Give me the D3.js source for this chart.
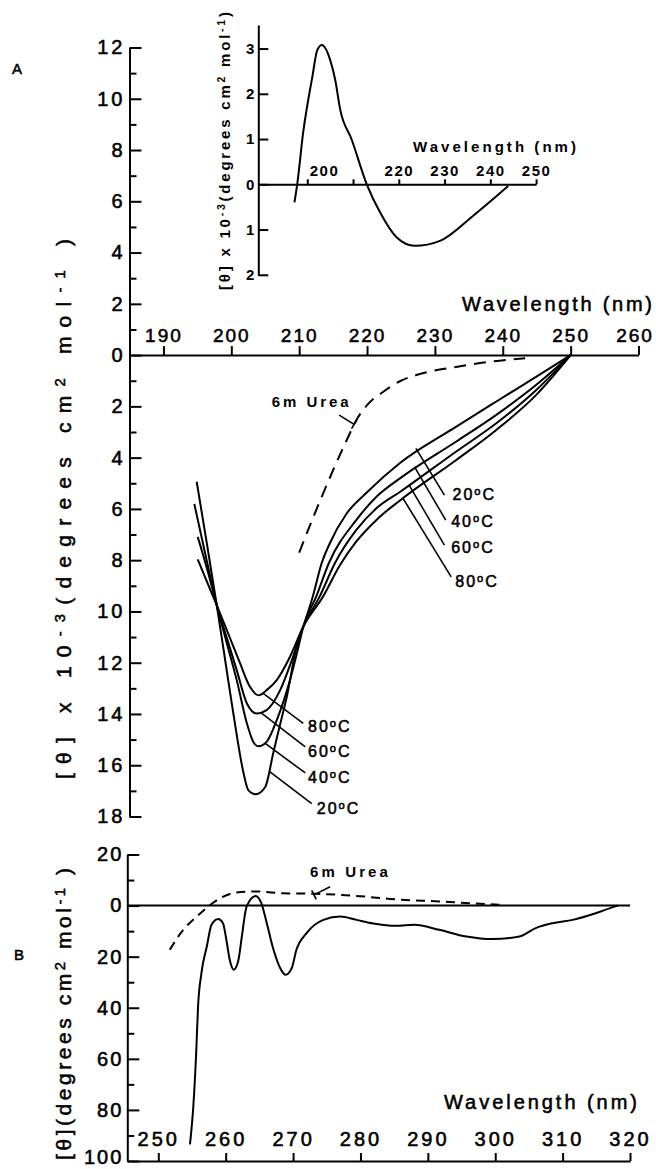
<!DOCTYPE html>
<html>
<head>
<meta charset="utf-8">
<script src="https://cdn.jsdelivr.net/npm/d3@7"></script>
<style>
  body { margin: 0; background: #fff; }
  svg { display: block; }
  .heavy { stroke: #000; stroke-width: 0.55px; }
</style>
</head>
<body>
<svg id="fig" width="656" height="1169"></svg>
<script>
// panel A, far UV: wavelength (nm) and [theta] x 10^-3 (negative values lie below the axis)
const temps = ["20", "40", "60", "80"];

const wl20 = [194.9, 196.4, 197.85, 199.2, 200.3, 201.8, 202.5, 203.6, 205.0, 206.2, 207.2, 208.2, 209.6, 210.6, 212.0, 213.3, 214.5, 217.0, 220.0, 224.9, 233.1, 239.0, 244.9, 250.0];
const th20 = [-4.94, -7.35, -9.75, -12.08, -13.98, -16.3, -16.97, -17.13, -16.85, -15.5, -14.4, -13.3, -11.4, -10.6, -9.43, -8.13, -7.35, -6.18, -5.35, -4.2, -2.8, -1.82, -0.85, 0];

const wl40 = [194.55, 196.2, 197.85, 199.3, 200.8, 202.3, 203.25, 204.0, 205.2, 206.7, 208.65, 209.9, 210.6, 212.5, 214.4, 218.4, 221.5, 224.9, 233.1, 239.0, 244.9, 250.0];
const th40 = [-5.81, -7.8, -9.75, -11.2, -12.68, -14.37, -15.09, -15.26, -15.09, -14.24, -12.68, -11.38, -10.6, -9.43, -8.1, -6.44, -5.5, -4.8, -3.38, -2.34, -1.17, 0];

const wl60 = [195.05, 196.5, 197.85, 199.3, 200.8, 202.3, 203.75, 205.2, 207.2, 209.1, 210.6, 213.0, 215.3, 218.4, 221.5, 224.9, 233.1, 239.0, 244.9, 250.0];
const th60 = [-7.09, -8.4, -9.75, -11.0, -12.29, -13.59, -13.98, -13.85, -13.07, -11.77, -10.6, -9.43, -8.1, -6.83, -5.95, -5.33, -3.77, -2.67, -1.37, 0];

const wl80 = [195.05, 196.5, 197.85, 199.6, 201.3, 202.75, 204.0, 205.2, 206.7, 208.65, 210.6, 213.5, 216.0, 218.4, 221.5, 224.9, 233.1, 239.0, 244.9, 250.0];
const th80 = [-7.97, -8.9, -9.75, -10.9, -12.03, -12.94, -13.27, -13.07, -12.68, -11.77, -10.6, -9.43, -8.2, -7.28, -6.4, -5.66, -4.1, -2.93, -1.56, 0];

const wlUreaA = [210.0, 212.1, 215.0, 217.0, 218.5, 220.0, 222.4, 225.0, 228.2, 233.1, 238.0, 243.3];
const thUreaA = [-7.71, -6.31, -4.49, -3.32, -2.5, -1.95, -1.43, -1.0, -0.71, -0.46, -0.26, -0.12];

// inset of panel A
const wlInset = [197.2, 197.8, 199.1, 201.1, 202.2, 203.2, 205.0, 206.1, 207.2, 209.7, 213.0, 215.9, 219.5, 223.5, 229.0, 236.2, 243.9];
const thInset = [-0.40, 0, 1.14, 2.37, 2.97, 3.08, 2.75, 2.31, 1.65, 0.99, 0, -0.62, -1.17, -1.36, -1.25, -0.70, -0.04];

// panel B, near UV
const wlB = [254.7, 255.2, 255.6, 255.9, 256.4, 257.2, 257.9, 258.9, 259.6, 260.1, 260.6, 261.2, 261.9, 262.4, 263.1, 264.45, 265.3, 266.1, 267.1, 268.1, 268.9, 269.8, 270.5, 272.0, 274.5, 277.0, 279.4, 281.9, 285.3, 288.0, 291.7, 295.7, 299.6, 303.6, 306.0, 308.5, 311.5, 314.9, 317.7, 318.2];
const thB = [-93.5, -78.5, -59, -39.5, -26.4, -16, -7.5, -5.3, -6.9, -13.4, -21.2, -25.1, -21.2, -12.1, -0.4, 3.8, 0.9, -6.9, -17.3, -24.5, -27.1, -24.5, -17.3, -10.8, -5.6, -4.3, -5.6, -7.0, -7.9, -7.5, -9.5, -12.1, -13.1, -12.1, -8.8, -6.9, -5.6, -3.0, -0.4, 0];

const wlUreaB = [251.7, 253.7, 255.7, 257.4, 259.2, 261.6, 264.6, 268.5, 273.5, 279.4, 284.4, 291.7, 296.6, 300.6];
const thUreaB = [-17.3, -9.5, -4.3, -0.4, 2.9, 5.1, 5.5, 4.8, 4.6, 3.8, 2.6, 1.6, 0.9, 0.3];

// tick values
const ticksAx = [190, 200, 210, 220, 230, 240, 250, 260];
const ticksAy = d3.range(-18, 13, 2);
const ticksIx = [200, 210, 220, 230, 240, 250];
const ticksIy = [-2, -1, 0, 1, 2, 3];
const ticksBx = [250, 260, 270, 280, 290, 300, 310, 320];
const ticksBy = d3.range(-100, 21, 20);

// label leaders, in data units: [from, to, text]
const lowLeaders = [
  [[205.7, -16.26], [211.85, -17.5], [212.6, -17.9]],
  [[205.0, -15.15], [210.9, -16.3], [211.3, -16.68]],
  [[204.5, -13.98], [210.9, -15.28], [211.3, -15.66]],
  [[204.7, -13.2], [210.6, -14.37], [211.3, -14.71]]
];
const highLeaders = [
  [[227.2, -3.64], [231.4, -5.46], [232.6, -5.66]],
  [[227.0, -4.36], [231.6, -6.44], [232.4, -6.71]],
  [[226.2, -5.07], [231.4, -7.41], [232.4, -7.73]],
  [[225.3, -5.59], [232.4, -8.65], [233.0, -9.05]]
];

const svg = d3.select("#fig")
  .attr("font-family", "'Liberation Sans', Arial, Helvetica, sans-serif");

const xA = d3.scaleLinear([185, 260], [129.5, 638.5]);
const yA = d3.scaleLinear([-18, 12], [816.5, 47.5]);
const xI = d3.scaleLinear([189.3, 250], [258.3, 536.1]);
const yI = d3.scaleLinear([-2, 3.52], [274.8, 25]);
const xB = d3.scaleLinear([245.4, 320], [127.3, 630]);
const yB = d3.scaleLinear([-100, 20], [1161, 854.5]);

function ink(g, fs, ls, weight) {
  g.attr("font-family", null).attr("font-size", null);
  g.selectAll("path, line").attr("stroke", "#000").attr("stroke-width", 2);
  g.selectAll("text").attr("fill", "#000")
    .style("font-size", fs + "px")
    .style("letter-spacing", ls + "px")
    .style("font-weight", weight || "normal")
    .classed("heavy", !weight);
  return g;
}

function curve(xs, ys, wl, th, dash, w) {
  const pts = wl.map((d, i) => [d, th[i]]);
  const line = d3.line().x(d => xs(d[0])).y(d => ys(d[1])).curve(d3.curveMonotoneX);
  svg.append("path")
    .attr("d", line(pts))
    .attr("fill", "none")
    .attr("stroke", "#000")
    .attr("stroke-width", w || 2)
    .attr("stroke-dasharray", dash || null);
}

function rich(sel, parts) {
  parts.forEach(([t, sup]) => {
    const s = sel.append("tspan").text(t);
    if (sup) s.attr("font-size", "70%").attr("baseline-shift", "42%");
  });
  return sel;
}

function leader(xs, ys, a, b, bar) {
  const x1 = xs(a[0]), y1 = ys(a[1]), x2 = xs(b[0]), y2 = ys(b[1]);
  svg.append("line").attr("x1", x1).attr("y1", y1).attr("x2", x2).attr("y2", y2)
    .attr("stroke", "#000").attr("stroke-width", 1.6);
  if (bar) {
    const L = Math.hypot(x2 - x1, y2 - y1), nx = -(y2 - y1) / L, ny = (x2 - x1) / L;
    svg.append("line")
      .attr("x1", x2 - nx * 5).attr("y1", y2 - ny * 5)
      .attr("x2", x2 + nx * 5).attr("y2", y2 + ny * 5)
      .attr("stroke", "#000").attr("stroke-width", 1.6);
  }
}

function tempLabel(xs, ys, p, t) {
  const txt = svg.append("text").attr("x", xs(p[0])).attr("y", ys(p[1]))
    .attr("class", "heavy").attr("font-size", 16).style("letter-spacing", "2px");
  rich(txt, [[t], ["o", true], ["C"]]);
}

// ---------- panel A axes
ink(svg.append("g").attr("transform", `translate(${xA(185)},0)`)
  .call(d3.axisLeft(yA).tickValues(ticksAy).tickSizeInner(-12).tickSizeOuter(0)
    .tickPadding(4).tickFormat(d => Math.abs(d))), 20, 3);
ink(svg.append("g").attr("transform", `translate(${xA(185)},0)`)
  .call(d3.axisLeft(yA).tickValues(d3.range(-17, 12, 2)).tickSizeInner(-7).tickSizeOuter(0)
    .tickFormat("")), 20, 0).select(".domain").remove();
const gAx = ink(svg.append("g").attr("transform", `translate(0,${yA(0)})`)
  .call(d3.axisTop(xA).tickValues(ticksAx).tickSizeInner(9).tickSizeOuter(0).tickPadding(4)), 19, 2);
gAx.selectAll(".tick text").filter(d => d === 260).attr("dx", -4);

svg.append("text").attr("class", "heavy").attr("x", 462).attr("y", 311).attr("font-size", 20)
  .attr("textLength", 190).attr("lengthAdjust", "spacing").text("Wavelength (nm)");

rich(svg.append("text").attr("class", "heavy").attr("transform", "translate(71,509) rotate(-90)")
  .attr("text-anchor", "middle").attr("font-size", 21)
  .attr("textLength", 540).attr("lengthAdjust", "spacing"),
  [["[θ] x 10"], ["-3", true], ["(degrees cm"], ["2", true], [" mol"], ["-1", true], [" )"]]);

svg.append("text").attr("class", "heavy").attr("x", 12).attr("y", 74).attr("font-size", 15).text("A");

// ---------- inset axes
ink(svg.append("g").attr("transform", `translate(${xI(189.3)},0)`)
  .call(d3.axisLeft(yI).tickValues(ticksIy).tickSizeInner(-10).tickSizeOuter(0)
    .tickPadding(3).tickFormat(d => Math.abs(d))), 15, 1, "bold");
const gIx = ink(svg.append("g").attr("transform", `translate(0,${yI(0)})`)
  .call(d3.axisTop(xI).tickValues(ticksIx).tickSizeInner(5).tickSizeOuter(0).tickPadding(3)
    .tickFormat(d => d === 210 ? "" : d)), 15, 1.5, "bold");
gIx.selectAll(".tick text").filter(d => d === 200).attr("text-anchor", "start").attr("x", 2);

svg.append("text").attr("x", 413).attr("y", 152).attr("font-size", 15).attr("font-weight", "bold")
  .attr("textLength", 163).attr("lengthAdjust", "spacing").text("Wavelength (nm)");

rich(svg.append("text").attr("transform", "translate(230,151) rotate(-90)")
  .attr("text-anchor", "middle").attr("font-size", 15).attr("font-weight", "bold")
  .attr("textLength", 278).attr("lengthAdjust", "spacing"),
  [["[θ] x 10"], ["-3", true], ["(degrees cm"], ["2", true], [" mol"], ["-1", true], [")"]]);

curve(xI, yI, wlInset, thInset);

// ---------- panel A curves
[[wl20, th20], [wl40, th40], [wl60, th60], [wl80, th80]].forEach(([w, t]) => curve(xA, yA, w, t));
curve(xA, yA, wlUreaA, thUreaA, "12,8");

temps.forEach((t, i) => {
  leader(xA, yA, lowLeaders[i][0], lowLeaders[i][1]);
  tempLabel(xA, yA, lowLeaders[i][2], t);
  leader(xA, yA, highLeaders[i][0], highLeaders[i][1]);
  tempLabel(xA, yA, highLeaders[i][2], t);
});

svg.append("text").attr("x", xA(205.95)).attr("y", yA(-2.03)).attr("font-size", 15)
  .attr("font-weight", "bold").attr("textLength", 77).attr("lengthAdjust", "spacing").text("6m Urea");
leader(xA, yA, [215.9, -2.34], [218.1, -2.7], true);

// ---------- panel B
const gBy = ink(svg.append("g").attr("transform", `translate(${xB(245.4)},0)`)
  .call(d3.axisLeft(yB).tickValues(ticksBy).tickSizeInner(-12).tickSizeOuter(0)
    .tickPadding(4).tickFormat(d => Math.abs(d))), 20, 2);
gBy.selectAll(".tick text").filter(d => d === -100).attr("dy", "0.12em");
ink(svg.append("g").attr("transform", `translate(${xB(245.4)},0)`)
  .call(d3.axisLeft(yB).tickValues(d3.range(-90, 20, 20)).tickSizeInner(-7).tickSizeOuter(0)
    .tickFormat("")), 20, 0).select(".domain").remove();
ink(svg.append("g").attr("transform", `translate(0,${yB(-100)})`)
  .call(d3.axisTop(xB).tickValues(ticksBx).tickSizeInner(8).tickSizeOuter(0).tickPadding(7)), 20, 3);

svg.append("line").attr("x1", xB(245.4)).attr("x2", xB(320)).attr("y1", yB(0)).attr("y2", yB(0))
  .attr("stroke", "#000").attr("stroke-width", 2);

curve(xB, yB, wlB, thB);
curve(xB, yB, wlUreaB, thUreaB, "9,6");

svg.append("text").attr("x", xB(272.5)).attr("y", yB(11.2)).attr("font-size", 15)
  .attr("font-weight", "bold").attr("textLength", 78).attr("lengthAdjust", "spacing").text("6m Urea");
leader(xB, yB, [275.5, 7.4], [273.1, 4.2], true);

svg.append("text").attr("class", "heavy").attr("x", 444).attr("y", 1109).attr("font-size", 20)
  .attr("textLength", 193).attr("lengthAdjust", "spacing").text("Wavelength (nm)");

rich(svg.append("text").attr("class", "heavy").attr("transform", "translate(71,1014) rotate(-90)")
  .attr("text-anchor", "middle").attr("font-size", 21)
  .attr("textLength", 292).attr("lengthAdjust", "spacing"),
  [["[θ](degrees cm"], ["2", true], [" mol"], ["-1", true], [" )"]]);

svg.append("text").attr("class", "heavy").attr("x", 14).attr("y", 960).attr("font-size", 15).text("B");
</script>
</body>
</html>
